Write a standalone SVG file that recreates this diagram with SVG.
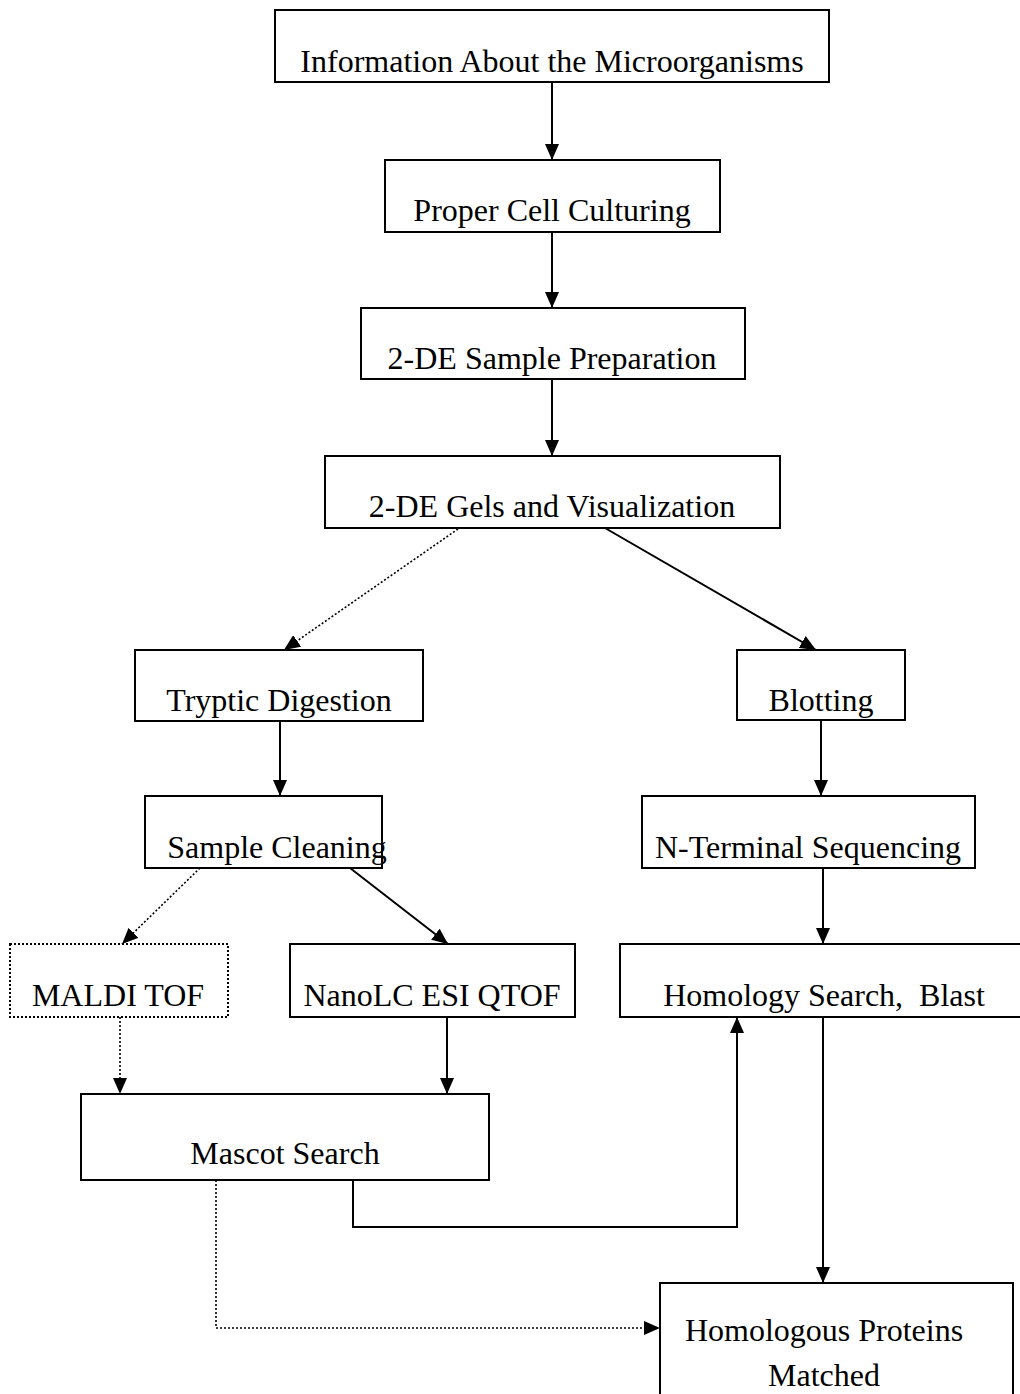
<svg xmlns="http://www.w3.org/2000/svg" width="1020" height="1394" viewBox="0 0 1020 1394">
<style>
.box{fill:#fff;stroke:#000;stroke-width:2}
.dbox{fill:#fff;stroke:#000;stroke-width:2;stroke-dasharray:2 2}
text{font-family:"Liberation Serif","Times New Roman",serif;font-size:32px;fill:#000;text-anchor:middle}
.ln{fill:none;stroke:#000;stroke-width:2}
.dl{fill:none;stroke:#000;stroke-width:1.6;stroke-dasharray:2 2}
</style>
<defs>
<marker id="ah" markerWidth="16" markerHeight="14" refX="16" refY="7" orient="auto" markerUnits="userSpaceOnUse">
<path d="M0,0 L16,7 L0,14 Z" fill="#000"/>
</marker>
</defs>
<rect width="1020" height="1394" fill="#fff"/>
<g id="connectors">
<line class="ln" x1="552" y1="82" x2="552" y2="160" marker-end="url(#ah)"/>
<line class="ln" x1="552" y1="232" x2="552" y2="308" marker-end="url(#ah)"/>
<line class="ln" x1="552" y1="379" x2="552" y2="456" marker-end="url(#ah)"/>
<line class="dl" x1="458" y1="529" x2="284" y2="650" marker-end="url(#ah)"/>
<line class="ln" x1="605" y1="528" x2="816" y2="650" marker-end="url(#ah)"/>
<line class="ln" x1="280" y1="721" x2="280" y2="796" marker-end="url(#ah)"/>
<line class="ln" x1="821" y1="720" x2="821" y2="796" marker-end="url(#ah)"/>
<line class="dl" x1="200" y1="868" x2="122" y2="944" marker-end="url(#ah)"/>
<line class="ln" x1="350" y1="868" x2="448" y2="944" marker-end="url(#ah)"/>
<line class="ln" x1="823" y1="868" x2="823" y2="944" marker-end="url(#ah)"/>
<line class="dl" x1="120" y1="1017" x2="120" y2="1094" marker-end="url(#ah)"/>
<line class="ln" x1="447" y1="1017" x2="447" y2="1094" marker-end="url(#ah)"/>
<polyline class="ln" points="353,1180 353,1227 737,1227 737,1017" marker-end="url(#ah)"/>
<line class="ln" x1="823" y1="1017" x2="823" y2="1283" marker-end="url(#ah)"/>
<polyline class="dl" points="216,1180 216,1328 660,1328" marker-end="url(#ah)"/>
</g>
<g id="n1"><rect class="box" x="275" y="10" width="554" height="72"/><text x="552" y="72">Information About the Microorganisms</text></g>
<g id="n2"><rect class="box" x="385" y="160" width="335" height="72"/><text x="552" y="221">Proper Cell Culturing</text></g>
<g id="n3"><rect class="box" x="361" y="308" width="384" height="71"/><text x="552" y="369">2-DE Sample Preparation</text></g>
<g id="n4"><rect class="box" x="325" y="456" width="455" height="72"/><text x="552" y="517">2-DE Gels and Visualization</text></g>
<g id="n5"><rect class="box" x="135" y="650" width="288" height="71"/><text x="279" y="711">Tryptic Digestion</text></g>
<g id="n6"><rect class="box" x="737" y="650" width="168" height="70"/><text x="821" y="711">Blotting</text></g>
<g id="n7"><rect class="box" x="145" y="796" width="237" height="72"/><text x="277" y="858">Sample Cleaning</text></g>
<g id="n8"><rect class="box" x="642" y="796" width="333" height="72"/><text x="808" y="858">N-Terminal Sequencing</text></g>
<g id="n9"><rect class="dbox" x="10" y="944" width="218" height="73"/><text x="118" y="1006">MALDI TOF</text></g>
<g id="n10"><rect class="box" x="290" y="944" width="285" height="73"/><text x="432" y="1006">NanoLC ESI QTOF</text></g>
<g id="n11"><rect class="box" x="620" y="944" width="410" height="73"/><text x="824" y="1006" xml:space="preserve">Homology Search,  Blast</text></g>
<g id="n12"><rect class="box" x="81" y="1094" width="408" height="86"/><text x="285" y="1164">Mascot Search</text></g>
<g id="n13"><rect class="box" x="660" y="1283" width="353" height="120"/><text x="824" y="1341">Homologous Proteins</text><text x="824" y="1386">Matched</text></g>
</svg>
